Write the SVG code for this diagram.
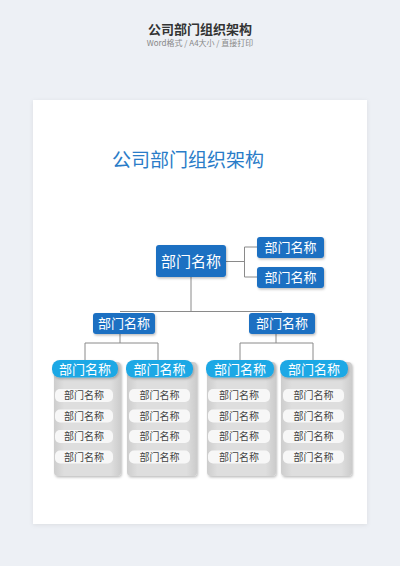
<svg xmlns="http://www.w3.org/2000/svg" width="400" height="566" viewBox="0 0 400 566">
<defs>
<style>
text{font-family:"Noto Sans CJK SC","Noto Sans",sans-serif;text-anchor:middle}
.dk{fill:#1a6fc2}
.cy{fill:#1fa8e5}
.card{fill:url(#cardg)}
.item{fill:#f7f7f7}
.wt{fill:#ffffff}
.it{fill:#444444;font-size:10px}
.ln{stroke:#8a8a8a;stroke-width:1;fill:none}
</style>
<linearGradient id="cardg" x1="0" y1="0" x2="1" y2="0">
<stop offset="0" stop-color="#cdcdcd"/>
<stop offset="0.15" stop-color="#dedede"/>
<stop offset="0.85" stop-color="#dedede"/>
<stop offset="1" stop-color="#cbcbcb"/>
</linearGradient>
<filter id="sh" x="-20%" y="-20%" width="140%" height="150%">
<feDropShadow dx="1" dy="1.5" stdDeviation="1.2" flood-color="#000" flood-opacity="0.25"/>
</filter>
<filter id="psh" x="-5%" y="-5%" width="110%" height="110%">
<feDropShadow dx="0" dy="1" stdDeviation="2" flood-color="#000" flood-opacity="0.08"/>
</filter>
</defs>
<rect x="0" y="0" width="400" height="566" fill="#edf0f5"/>
<text x="200" y="33.5" font-size="13" font-weight="bold" fill="#333333">公司部门组织架构</text>
<text x="200" y="46" font-size="8" fill="#888888">Word格式 / A4大小 / 直接打印</text>
<rect x="33" y="100" width="334" height="424" fill="#ffffff" filter="url(#psh)"/>
<text x="112" y="167" font-size="19" fill="#2a7cc8" style="text-anchor:start">公司部门组织架构</text>

<g id="connectors">
<path class="ln" d="M226 261.5H244.5M244.5 247V277M244.5 247H257M244.5 277H257"/>
<path class="ln" d="M191 277V311.5M120 311.5H282"/>
<path class="ln" d="M120 334V343M85 343H158M85 343V360M158 343V360"/>
<path class="ln" d="M276 334V343M240 343H313M240 343V360M313 343V360"/>
</g>

<g id="main">
<rect class="dk" x="156" y="245" width="70" height="32" rx="3" filter="url(#sh)"/>
<text class="wt" x="191" y="267" font-size="15">部门名称</text>
</g>
<g id="r1">
<rect class="dk" x="257" y="237" width="67" height="21" rx="3" filter="url(#sh)"/>
<text class="wt" x="290.5" y="252.3" font-size="13">部门名称</text>
</g>
<g id="r2">
<rect class="dk" x="257" y="267" width="67" height="21" rx="3" filter="url(#sh)"/>
<text class="wt" x="290.5" y="282.3" font-size="13">部门名称</text>
</g>
<g id="l2a">
<rect class="dk" x="93" y="313" width="62" height="21" rx="3" filter="url(#sh)"/>
<text class="wt" x="124" y="328.3" font-size="13">部门名称</text>
</g>
<g id="l2b">
<rect class="dk" x="249" y="313" width="66" height="21" rx="3" filter="url(#sh)"/>
<text class="wt" x="282" y="328.3" font-size="13">部门名称</text>
</g>

<g id="col1">
<rect class="card" x="54" y="362" width="67" height="114" rx="4" filter="url(#sh)"/>
<rect class="cy" x="52" y="360" width="66" height="17.5" rx="8" filter="url(#sh)"/>
<text class="wt" x="85" y="373.5" font-size="13">部门名称</text>
<rect class="item" x="55" y="389" width="58" height="13" rx="5"/>
<text class="it" x="84" y="399">部门名称</text>
<rect class="item" x="55" y="409.5" width="58" height="13" rx="5"/>
<text class="it" x="84" y="419.5">部门名称</text>
<rect class="item" x="55" y="430" width="58" height="13" rx="5"/>
<text class="it" x="84" y="440">部门名称</text>
<rect class="item" x="55" y="450.5" width="58" height="13" rx="5"/>
<text class="it" x="84" y="460.5">部门名称</text>
</g>
<g id="col2">
<rect class="card" x="127" y="362" width="70" height="114" rx="4" filter="url(#sh)"/>
<rect class="cy" x="126" y="360" width="67" height="17.5" rx="8" filter="url(#sh)"/>
<text class="wt" x="159.5" y="373.5" font-size="13">部门名称</text>
<rect class="item" x="129" y="389" width="61" height="13" rx="5"/>
<text class="it" x="159.5" y="399">部门名称</text>
<rect class="item" x="129" y="409.5" width="61" height="13" rx="5"/>
<text class="it" x="159.5" y="419.5">部门名称</text>
<rect class="item" x="129" y="430" width="61" height="13" rx="5"/>
<text class="it" x="159.5" y="440">部门名称</text>
<rect class="item" x="129" y="450.5" width="61" height="13" rx="5"/>
<text class="it" x="159.5" y="460.5">部门名称</text>
</g>
<g id="col3">
<rect class="card" x="207" y="362" width="69" height="114" rx="4" filter="url(#sh)"/>
<rect class="cy" x="206" y="360" width="68" height="17.5" rx="8" filter="url(#sh)"/>
<text class="wt" x="240" y="373.5" font-size="13">部门名称</text>
<rect class="item" x="208" y="389" width="62" height="13" rx="5"/>
<text class="it" x="239" y="399">部门名称</text>
<rect class="item" x="208" y="409.5" width="62" height="13" rx="5"/>
<text class="it" x="239" y="419.5">部门名称</text>
<rect class="item" x="208" y="430" width="62" height="13" rx="5"/>
<text class="it" x="239" y="440">部门名称</text>
<rect class="item" x="208" y="450.5" width="62" height="13" rx="5"/>
<text class="it" x="239" y="460.5">部门名称</text>
</g>
<g id="col4">
<rect class="card" x="281" y="362" width="71" height="114" rx="4" filter="url(#sh)"/>
<rect class="cy" x="280" y="360" width="68" height="17.5" rx="8" filter="url(#sh)"/>
<text class="wt" x="314" y="373.5" font-size="13">部门名称</text>
<rect class="item" x="283" y="389" width="61" height="13" rx="5"/>
<text class="it" x="313.5" y="399">部门名称</text>
<rect class="item" x="283" y="409.5" width="61" height="13" rx="5"/>
<text class="it" x="313.5" y="419.5">部门名称</text>
<rect class="item" x="283" y="430" width="61" height="13" rx="5"/>
<text class="it" x="313.5" y="440">部门名称</text>
<rect class="item" x="283" y="450.5" width="61" height="13" rx="5"/>
<text class="it" x="313.5" y="460.5">部门名称</text>
</g>
</svg>
